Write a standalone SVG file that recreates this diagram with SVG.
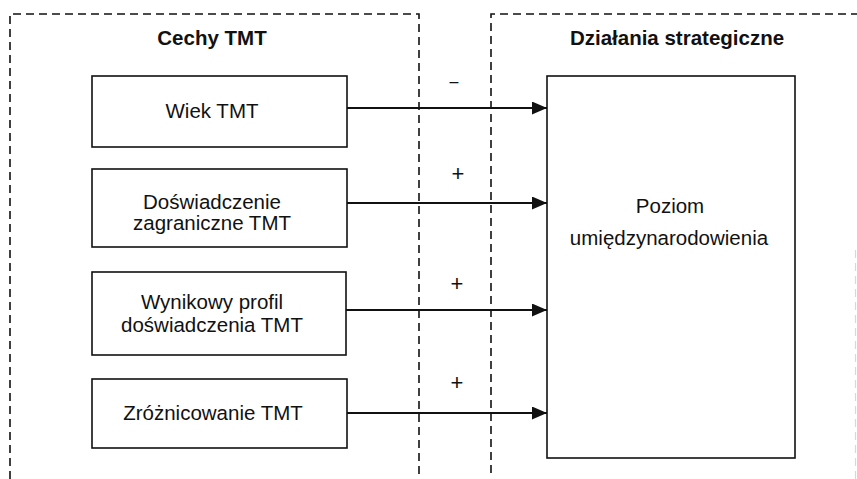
<svg xmlns="http://www.w3.org/2000/svg" width="857" height="479" viewBox="0 0 857 479">
<style>
.bg{fill:#fff}
.dash{fill:none;stroke:#111;stroke-width:1.6;stroke-dasharray:8 5}
.faint{fill:none;stroke:#d8d8d8;stroke-width:1.2;stroke-dasharray:8 5}
.box{fill:#fff;stroke:#111;stroke-width:1.6}
.t{font-family:"Liberation Sans",Arial,sans-serif;font-size:20.5px;fill:#111;text-anchor:middle}
.h{font-family:"Liberation Sans",Arial,sans-serif;font-size:20.5px;font-weight:bold;fill:#111;text-anchor:middle}
.s{font-family:"Liberation Sans",Arial,sans-serif;font-size:22px;fill:#111;text-anchor:middle}
.m{font-family:"Liberation Sans",Arial,sans-serif;font-size:16px;fill:#111;text-anchor:middle}
.c{fill:none;stroke:#111;stroke-width:1.8}
</style>
<defs>
<marker id="ah" markerWidth="15" markerHeight="13" refX="15" refY="6.5" orient="auto" markerUnits="userSpaceOnUse">
<path d="M0,0 L15,6.5 L0,13 Z" fill="#111"/>
</marker>
</defs>
<rect class="bg" x="0" y="0" width="857" height="479"/>
<g id="group-cechy">
<path class="dash" d="M10,479 V14 H419 V479"/>
<text class="h" x="212" y="45">Cechy TMT</text>
</g>
<g id="group-dzialania">
<path class="dash" d="M491,473 V14 H857"/>
<path class="faint" d="M855.5,250 V479"/>
<text class="h" x="677" y="45">Działania strategiczne</text>
</g>
<g id="node-wiek">
<rect class="box" x="92" y="76" width="255" height="71"/>
<text class="t" x="212" y="118">Wiek TMT</text>
</g>
<g id="node-doswiadczenie">
<rect class="box" x="92" y="169" width="255" height="78"/>
<text class="t" x="212" y="209">Doświadczenie</text>
<text class="t" x="212" y="230">zagraniczne TMT</text>
</g>
<g id="node-wynikowy">
<rect class="box" x="92" y="272" width="254" height="83"/>
<text class="t" x="212" y="309">Wynikowy profil</text>
<text class="t" x="212" y="332">doświadczenia TMT</text>
</g>
<g id="node-zroznicowanie">
<rect class="box" x="92" y="379" width="255" height="69"/>
<text class="t" x="213" y="420">Zróżnicowanie TMT</text>
</g>
<g id="node-poziom">
<rect class="box" x="547" y="76" width="248" height="382"/>
<text class="t" x="670" y="213">Poziom</text>
<text class="t" x="669" y="245">umiędzynarodowienia</text>
</g>
<g id="connectors">
<line class="c" x1="347" y1="108" x2="547" y2="108" marker-end="url(#ah)"/>
<line class="c" x1="347" y1="203" x2="547" y2="203" marker-end="url(#ah)"/>
<line class="c" x1="346" y1="310" x2="547" y2="310" marker-end="url(#ah)"/>
<line class="c" x1="347" y1="413" x2="547" y2="413" marker-end="url(#ah)"/>
<text class="m" x="454" y="87">–</text>
<text class="s" x="458" y="181">+</text>
<text class="s" x="457" y="291">+</text>
<text class="s" x="457" y="390">+</text>
</g>
</svg>
